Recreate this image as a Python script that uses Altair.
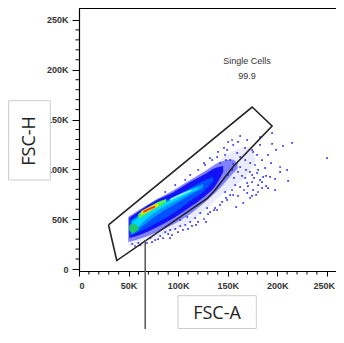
import altair as alt
import pandas as pd

# ---- axis ticks (values in thousands) ----
major_ticks = [0, 50, 100, 150, 200, 250]
minor_ticks = [10, 20, 30, 40, 60, 70, 80, 90, 110, 120, 130, 140,
               160, 170, 180, 190, 210, 220, 230, 240]

# ---- density bands (FSC-A x, FSC-H low/high, thousands) ----
halo_x = [49.7, 61.8, 71.9, 82.0, 97.1, 112.2, 127.3, 142.4, 157.6, 170.0, 178.0]
halo_lo = [23.1, 26.1, 29.1, 33.1, 39.2, 47.2, 59.2, 73.3, 83.3, 95.0, 108.0]
halo_hi = [53.2, 60.2, 65.3, 70.3, 78.3, 87.3, 97.4, 109.4, 119.5, 122.0, 114.0]

speck_x = [49.7, 63.8, 76.9, 94.0, 112.2, 127.3, 142.4, 154.5, 160.0]
speck_lo = [27.1, 31.1, 36.1, 44.2, 55.2, 67.3, 81.3, 95.0, 101.0]
speck_hi = [52.2, 61.2, 69.3, 78.3, 89.4, 98.4, 107.4, 110.0, 106.0]

blue_x = [50.7, 63.8, 76.9, 94.0, 112.2, 127.3, 137.4, 145.5]
blue_lo = [31.1, 35.1, 41.2, 50.2, 62.2, 73.3, 83.3, 97.4]
blue_hi = [51.2, 60.2, 68.3, 76.3, 87.3, 95.4, 101.4, 103.4]

mid_x = [51.7, 66.8, 82.0, 97.1, 112.2, 127.3, 135.4]
mid_lo = [33.1, 40.2, 48.2, 57.2, 68.3, 79.3, 88.4]
mid_hi = [49.2, 58.2, 66.3, 73.3, 81.3, 89.4, 92.4]

sky_x = [52.7, 66.8, 82.0, 97.1, 112.2, 125.3]
sky_lo = [34.1, 45.2, 56.2, 65.3, 74.3, 81.3]
sky_hi = [48.2, 57.2, 65.3, 72.3, 80.3, 85.4]

cyan_x = [53.8, 66.8, 82.0, 97.1, 110.2, 120.3]
cyan_lo = [35.1, 49.2, 60.2, 68.3, 75.3, 80.3]
cyan_hi = [47.2, 56.2, 64.3, 71.3, 78.3, 82.3]

core_x = [92.0, 104.2, 114.0]
core_lo = [68.5, 74.3, 78.5]
core_hi = [70.5, 76.3, 79.5]

gblob_x = [50.7, 52.5, 55.0, 57.5, 60.0]
gblob_lo = [39.0, 37.0, 36.5, 37.5, 39.5]
gblob_hi = [43.5, 45.0, 45.5, 44.5, 42.5]

gstreak_x = [59.8, 66.8, 73.9, 82.0, 88.0]
gstreak_lo = [50.2, 54.2, 59.2, 63.3, 67.3]
gstreak_hi = [55.2, 60.2, 64.3, 68.3, 70.3]

yel_x = [62.8, 68.9, 74.9, 80.0]
yel_lo = [54.2, 57.2, 60.2, 63.3]
yel_hi = [58.2, 61.2, 64.3, 66.3]

red_x = [64.8, 70.9, 76.9]
red_lo = [56.2, 59.2, 61.8]
red_hi = [58.2, 61.2, 63.8]

# ---- sparse events ----
dots_x = [194.8, 182.7, 194.8, 215.0, 250.3, 174.7, 179.7, 193.8, 202.9, 210.0,
          179.7, 192.8, 197.9, 211.0, 174.7, 180.7, 184.8, 188.8, 175.7, 178.7,
          190.8, 182.7, 175.7, 202.9, 185.8, 169.7, 162.6, 155.6, 169.7, 149.5,
          139.4, 122.3, 129.3, 102.1, 109.2, 92.0, 169.7, 155.6, 159.6, 149.5,
          139.4, 152.5, 162.6, 142.4, 172.7, 162.6, 71.9, 82.0, 87.0, 97.1,
          76.9, 90.0, 102.1, 112.2, 117.2, 66.8, 59.8, 53.7, 61.8, 107.2,
          132.3, 137.4, 144.4, 152.5, 147.5, 157.6, 167.7, 174.7, 180.7, 187.8,
          127.3, 134.4, 147.5, 120.3, 112.2, 107.2, 154.5, 167.7, 150.5, 162.6,
          97.1, 87.0, 172.7, 165.7, 158.6, 182.7, 197.9,
          150.3, 156.4, 160.4, 164.5, 168.5, 172.5, 176.6, 170.5, 166.5, 160.4,
          174.6, 180.6, 184.6, 188.7, 177.6, 184.6, 190.7, 198.8, 205.8, 167.5,
          160.4, 154.4, 146.3, 140.3, 132.2, 126.1, 148.3, 155.4,
          56.5, 68.6, 73.7, 79.7, 84.8, 93.8, 99.9, 104.9, 114.0, 120.1,
          126.1, 130.2, 136.2, 142.3, 148.3, 154.4, 110.0, 118.1, 128.1, 91.8]
dots_y = [136.5, 132.5, 125.5, 126.5, 111.4, 119.6, 114.5, 106.4, 102.4, 99.4,
          96.4, 92.4, 90.4, 88.4, 87.3, 84.3, 81.3, 83.3, 79.3, 74.3,
          81.3, 124.5, 117.5, 97.4, 92.4, 86.3, 82.3, 74.3, 76.3, 69.3,
          59.2, 56.2, 61.2, 49.2, 52.2, 39.2, 129.5, 124.5, 116.5, 119.5,
          112.4, 109.4, 112.4, 106.4, 106.4, 102.4, 31.1, 33.1, 37.1, 40.2,
          29.1, 35.1, 43.2, 47.2, 51.2, 28.1, 26.1, 25.1, 24.1, 44.2,
          57.2, 61.2, 67.3, 74.3, 77.3, 84.3, 91.4, 94.4, 99.4, 101.4,
          104.4, 109.4, 114.5, 99.4, 94.4, 89.4, 99.4, 109.4, 127.5, 133.5,
          84.3, 77.3, 71.3, 66.3, 62.2, 89.4, 79.3,
          94.4, 91.4, 97.4, 93.4, 99.4, 97.4, 91.4, 83.3, 79.3, 73.3,
          73.3, 77.3, 87.3, 93.4, 104.4, 109.4, 114.5, 119.5, 123.5, 121.5,
          127.5, 129.5, 121.5, 117.5, 111.4, 106.4, 109.4, 105.4,
          23.1, 26.1, 27.1, 30.1, 31.1, 34.1, 37.1, 39.2, 43.2, 47.2,
          50.2, 55.2, 59.2, 64.3, 71.3, 79.3, 40.2, 44.2, 47.2, 31.1]

# ---- gate polygon ----
gate_x = [29.8, 38.1, 129.3, 136.4, 155.5, 194.8, 174.7, 29.8]
gate_y = [44.2, 8.5, 70.8, 78.3, 102.7, 143.6, 162.6, 44.2]

gate_name = "Single Cells"
gate_pct = "99.9"
gate_label_x = 169.5
gate_label_y = [209.3, 193.8]

pointer_x = 66.8
pointer_y = 29.1

# ---- scales / axes ----
xscale = alt.Scale(domain=[0, 259.3], nice=False, zero=False)
yscale = alt.Scale(domain=[-2, 262], nice=False, zero=False)
lab = "datum.value == 0 ? '0' : datum.value + 'K'"
xaxis = alt.Axis(values=major_ticks, tickSize=5, labelExpr=lab, labelPadding=5,
                 labelOffset={"condition": {"test": "datum.value == 250", "value": -3}, "value": 0},
                 title=None, grid=False)
yaxis = alt.Axis(values=major_ticks, tickSize=7, labelExpr=lab, labelPadding=4,
                 title=None, grid=False)


def X(f):
    return alt.X(f, type="quantitative", scale=xscale, axis=xaxis)


def Y(f):
    return alt.Y(f, type="quantitative", scale=yscale, axis=yaxis)


def band(xs, lo, hi, color):
    df = pd.DataFrame({"x": xs, "lo": lo, "hi": hi})
    return alt.Chart(df).mark_area(color=color, interpolate="monotone").encode(
        x=X("x"), y=Y("lo"), y2="hi")


layers = [
    band(halo_x, halo_lo, halo_hi, "#ebebff"),
    band(speck_x, speck_lo, speck_hi, "#8282ff"),
    band(blue_x, blue_lo, blue_hi, "#1212f5"),
    band(mid_x, mid_lo, mid_hi, "#0050ff"),
    band(sky_x, sky_lo, sky_hi, "#0098ff"),
    band(cyan_x, cyan_lo, cyan_hi, "#00d6ff"),
    band(core_x, core_lo, core_hi, "#90f2ff"),
    band(gblob_x, gblob_lo, gblob_hi, "#1cc868"),
    band(gstreak_x, gstreak_lo, gstreak_hi, "#50f050"),
    band(yel_x, yel_lo, yel_hi, "#f0e400"),
    band(red_x, red_lo, red_hi, "#ff2a00"),
]

dots = alt.Chart(pd.DataFrame({"x": dots_x, "y": dots_y})).mark_square(
    size=3, color="#2a2aff", opacity=0.95).encode(x=X("x"), y=Y("y"))

gate = alt.Chart(pd.DataFrame({"x": gate_x, "y": gate_y, "o": list(range(len(gate_x)))})).mark_line(
    color="#222222", strokeWidth=1.6).encode(x=X("x"), y=Y("y"), order="o")

gate_text = alt.Chart(pd.DataFrame({"x": [gate_label_x, gate_label_x], "y": gate_label_y,
                                    "t": [gate_name, gate_pct]})).mark_text(
    font="Liberation Sans", fontSize=9, color="#333333").encode(x=X("x"), y=Y("y"), text="t")

pointer = alt.Chart(pd.DataFrame({"x": [pointer_x], "y": [pointer_y]})).mark_rule(
    color="#555555", strokeWidth=1.5).encode(x=X("x"), y=Y("y"), y2=alt.value(321))

xminor = alt.Chart(pd.DataFrame({"v": minor_ticks})).mark_rule(color="black", strokeWidth=1).encode(
    x=X("v"), y=alt.value(263), y2=alt.value(266.5))
yminor = alt.Chart(pd.DataFrame({"v": minor_ticks})).mark_rule(color="black", strokeWidth=1).encode(
    y=Y("v"), x=alt.value(0), x2=alt.value(-3.5))

box_df = pd.DataFrame({"t": ["FSC-H"]})
hbox = alt.Chart(box_df).mark_rect(fill="white", stroke="#cccccc", strokeWidth=1).encode(
    x=alt.value(-70.4), x2=alt.value(-28.7), y=alt.value(92.7), y2=alt.value(172))
htext = alt.Chart(box_df).mark_text(font="Open Sans", fontSize=18, color="#222222", angle=270).encode(
    x=alt.value(-49.5), y=alt.value(133), text="t")

abox_df = pd.DataFrame({"t": ["FSC-A"]})
abox = alt.Chart(abox_df).mark_rect(fill="white", stroke="#cccccc", strokeWidth=1).encode(
    x=alt.value(99), x2=alt.value(177.3), y=alt.value(287.7), y2=alt.value(320.5))
atext = alt.Chart(abox_df).mark_text(font="Open Sans", fontSize=18, color="#222222").encode(
    x=alt.value(138), y=alt.value(306), text="t")

chart = alt.layer(*layers, dots, gate, gate_text, pointer, xminor, yminor,
                  hbox, htext, abox, atext).properties(
    width=257, height=263,
    autosize=alt.AutoSizeParams(type="none"),
    padding={"left": 71, "top": 0, "right": 0, "bottom": 58},
).configure_view(stroke="black", strokeWidth=1).configure_axis(
    domainColor="black", tickColor="black", labelFont="Liberation Sans",
    labelFontSize=9, labelColor="#333333", labelFontWeight="bold", domainWidth=1.2
)

chart.save("out.html", embed_options={"renderer": "svg", "actions": False})
